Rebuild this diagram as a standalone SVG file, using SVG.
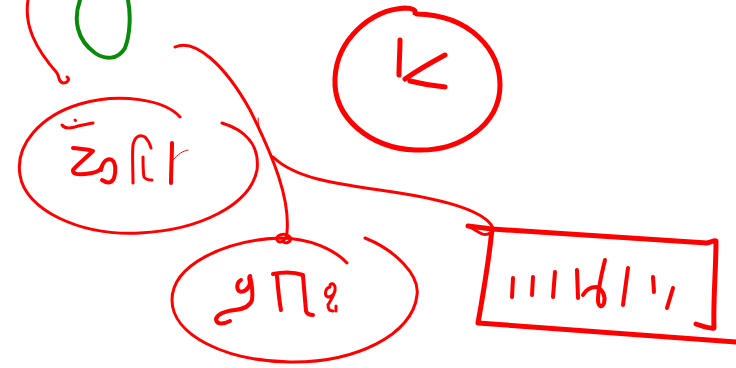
<svg xmlns="http://www.w3.org/2000/svg" width="736" height="368" viewBox="0 0 736 368">
<style>
.s{fill:none;stroke:#ff0000;stroke-linecap:round;stroke-linejoin:round}
.w3{stroke-width:3}
.w4{stroke-width:4}
.w5{stroke-width:5}
.thin{stroke-width:1}
.g{fill:none;stroke:#0a8a0a;stroke-width:4;stroke-linecap:round}
</style>
<rect width="736" height="368" fill="#ffffff"/>
<g id="connectors">
<path class="s w3" d="M28 0 C24 25 35 48 57 73 C60 78 58 82 63 83 C68 83 70 79 67 77"/>
<path class="s w3" d="M175 47 C195 38 225 65 250 110 C275 160 290 200 287 232 C287 240 280 245 277 240 C275 235 285 232 290 237 C292 242 285 245 283 241"/>
<path class="s thin" d="M258 118 C258 130 265 145 273 157"/>
<path class="s w3" d="M273 157 C295 178 330 183 393 192 C440 199 485 210 493 228"/>
<path class="s w3" d="M469 226 L492 229 M470 227 C478 232 484 237 490 233"/>
</g>
<g id="node-green">
<path class="g" d="M80 0 C73 20 77 40 95 53 C105 60 118 60 125 48 C130 35 131 15 128 0"/>
</g>
<g id="node-ellipse1">
<path class="s w3" d="M180 117 C165 100 120 92 80 104 C40 116 15 145 20 175 C25 210 80 236 140 233 C200 230 250 205 257 170 C260 145 245 130 222 123"/>
<path class="s w3" d="M62 125 C65 129 70 128 75 127 C82 125 88 124 93 123 M75 120 L75.5 120.5"/>
<path class="s w4" d="M73 148 C80 149 88 149 93 151 C86 158 78 164 73 170 C72 175 80 175 92 173 C98 172 101 170 102 166"/>
<path class="s w4" d="M101 170 C103 160 108 158 112 160 C116 163 116 172 114 178 C112 183 108 184 102 180"/>
<path class="s w3" d="M133 183 C133 170 132 155 133 145 C135 136 140 134 145 137 C148 140 150 144 151 148 M143 157 C143 165 143 172 144 177 C146 180 149 180 152 180"/>
<path class="s w4" d="M172 143 C172 157 171 170 171 183"/>
<path class="s thin" d="M173 160 C178 154 183 151 188 150"/>
</g>
<g id="node-ellipse2">
<path class="s w3" d="M365 238 C395 250 420 275 417 295 C413 335 355 363 290 362 C225 361 172 335 172 300 C172 265 225 240 280 238 C310 238 335 250 347 263"/>
<path class="s w4" d="M241 280 C237 282 236 288 239 291 C243 293 248 290 250 284 C250 280 248 277 250 276 C252 285 253 293 252 300 C250 306 244 309 235 310 C226 311 218 313 216 319 C216 324 222 325 230 321"/>
<path class="s w4" d="M273 274 C283 272 294 272 303 275 M277 276 C278 288 279 300 281 310 M303 276 C304 288 305 300 306 311 C307 314 310 315 313 315"/>
<path class="s w3" d="M330 287 C325 288 324 296 328 297 C333 297 336 292 335 287 C334 283 331 283 330 285 M335 290 C334 296 330 301 328 305 C328 309 330 311 333 311 M336 306 L336 311"/>
</g>
<g id="node-circle">
<path class="s w5" d="M417 14 C470 15 500 50 500 85 C500 125 460 152 415 150 C370 148 333 118 335 78 C337 40 370 10 405 8 C412 8 416 10 415 13"/>
<path class="s w5" d="M400 40 C400 52 399 64 399 75 M405 79 C418 70 432 62 445 55 M410 81 C422 84 434 86 445 87"/>
</g>
<g id="node-rect">
<path class="s w5" d="M468 226 L492 229 L707 243 C712 242 714 240 716 241 C716 270 713 300 714 328 C710 329 705 327 696 324 M492 229 C489 260 483 295 478 323 L736 342"/>
<path class="s w4" d="M513 278 L512 297 M533 277 L532 295 M555 272 L553 297 M577 270 L578 298"/>
<path class="s w4" d="M583 295 C586 290 590 287 596 287 C602 288 606 296 604 303 C602 309 598 306 598 300 C598 290 602 272 605 260"/>
<path class="s w4" d="M628 268 L623 305 M653 277 L654 292 M673 288 L667 308"/>
</g>
</svg>
